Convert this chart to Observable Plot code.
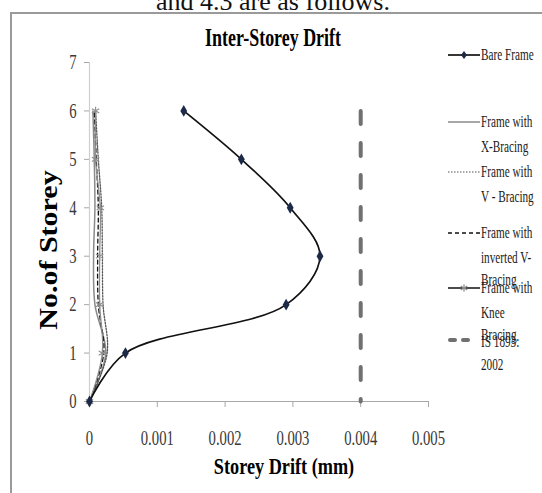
<!DOCTYPE html>
<html>
<head>
<meta charset="utf-8">
<script src="https://cdn.jsdelivr.net/npm/d3@7"></script>
<script src="https://cdn.jsdelivr.net/npm/@observablehq/plot@0.6"></script>
<style>
  html, body { margin: 0; padding: 0; background: #fff; }
  #wrap { position: relative; width: 542px; height: 493px; overflow: hidden; background: #fff; }
  #wrap svg { position: absolute; left: 0; top: 0; }
</style>
</head>
<body>
<div id="wrap"></div>
<script>
// ---- data ----
const storeys = [0, 1, 2, 3, 4, 5, 6];
const bareFrame = [0, 0.00053, 0.0029, 0.0034, 0.00296, 0.00224, 0.00139];
const xBracing = [0, 0.00024, 0.00008, 0.00006, 0.00008, 0.00007, 0.00005];
const vBracing = [0, 0.00026, 0.0002, 0.00019, 0.00018, 0.00013, 0.00009];
const invVBracing = [0, 0.00021, 0.00013, 0.00012, 0.00013, 0.0001, 0.00007];
const kneeBracing = [0, 0.00019, 0.00015, 0.00015, 0.00016, 0.00009, 0.00009];
const isLimitDrift = 0.004;
const isLimitStoreys = [6, 0];
const xTicks = [0, 0.001, 0.002, 0.003, 0.004, 0.005];
const yTicks = [0, 1, 2, 3, 4, 5, 6, 7];

const seriesNames = ["Bare Frame", "Frame with X-Bracing", "Frame with V - Bracing", "Frame with inverted V-Bracing", "Frame with Knee Bracing"];
const rows = (vals) => storeys.map((s, i) => ({storey: s, drift: vals[i]}));
const isRows = isLimitStoreys.map(s => ({storey: s, drift: isLimitDrift}));

const font = "'Liberation Serif', 'Times New Roman', serif";

const plot = Plot.plot({
  width: 542,
  height: 493,
  marginLeft: 89,
  marginRight: 114,
  marginTop: 62,
  marginBottom: 92,
  x: {domain: [0, 0.005]},
  y: {domain: [0, 7]},
  style: {fontFamily: font, background: "transparent", overflow: "visible"},
  marks: [
    Plot.ruleX([0], {stroke: "#cfcfcf", strokeWidth: 1.2}),
    Plot.ruleY([0], {stroke: "#a8a8a8", strokeWidth: 1.2}),
    Plot.axisX({ticks: xTicks, tickSize: 6, tickPadding: 23, fontSize: 21, color: "#3a3a3a",
      tickFormat: d => String(d), label: null}),
    Plot.axisY({ticks: yTicks, tickSize: 5, tickPadding: 8, fontSize: 21, color: "#3a3a3a",
      tickFormat: d => String(d), label: null}),
    Plot.line(isRows, {x: "drift", y: "storey", stroke: "#707070", strokeWidth: 4,
      strokeDasharray: "13,19", strokeLinecap: "round"}),
    Plot.line(rows(xBracing), {x: "drift", y: "storey", stroke: "#8a8a8a", strokeWidth: 1.5, curve: "catmull-rom"}),
    Plot.line(rows(vBracing), {x: "drift", y: "storey", stroke: "#555", strokeWidth: 1.3, strokeDasharray: "1.5,1.5", curve: "catmull-rom"}),
    Plot.line(rows(invVBracing), {x: "drift", y: "storey", stroke: "#111", strokeWidth: 1.3, strokeDasharray: "4,3", curve: "catmull-rom"}),
    Plot.line(rows(kneeBracing), {x: "drift", y: "storey", stroke: "#8f8f8f", strokeWidth: 1.3, curve: "catmull-rom"}),
    Plot.dot(rows(kneeBracing), {x: "drift", y: "storey", symbol: "asterisk", r: 4, stroke: "#909090", strokeWidth: 1.2}),
    Plot.line(rows(bareFrame), {x: "drift", y: "storey", stroke: "#111", strokeWidth: 1.7, curve: "catmull-rom"}),
    Plot.dot(rows(bareFrame), {x: "drift", y: "storey", symbol: "diamond", r: 3.6, fill: "#1c2a48", stroke: "none"})
  ]
});

// tick marks grey, labels narrow
d3.select(plot).selectAll("g[aria-label='x-axis tick'] path, g[aria-label='y-axis tick'] path").attr("stroke", "#a8a8a8");
function squeeze(node, s) {
  const x = parseFloat(node.getAttribute("x")) || 0;
  const t = node.getAttribute("transform") || "";
  node.setAttribute("transform", `${t} translate(${x},0) scale(${s},1) translate(${-x},0)`);
}
d3.select(plot).selectAll("text").each(function() { squeeze(this, 0.7); });

const wrap = document.getElementById("wrap");
wrap.appendChild(plot);

// ---- overlay: page text, border, titles, legend ----
const ov = d3.create("svg").attr("width", 542).attr("height", 493)
  .style("font-family", font).style("pointer-events", "none");

ov.append("text").attr("x", 273).attr("y", 10).attr("text-anchor", "middle")
  .attr("font-size", 26).attr("fill", "#111").text("and 4.3 are as follows.");

ov.append("rect").attr("x", 11).attr("y", 13).attr("width", 700).attr("height", 700)
  .attr("fill", "none").attr("stroke", "#9a9a9a").attr("stroke-width", 2);

ov.append("text").attr("transform", "translate(273,46) scale(0.69,1)").attr("text-anchor", "middle")
  .attr("font-size", 26).attr("font-weight", "bold").attr("fill", "#000").text("Inter-Storey Drift");

ov.append("text").attr("transform", "translate(284,474) scale(0.76,1)").attr("text-anchor", "middle")
  .attr("font-size", 24).attr("font-weight", "bold").attr("fill", "#000").text("Storey Drift (mm)");

ov.append("text").attr("transform", "translate(57,250) rotate(-90) scale(1,0.82)").attr("text-anchor", "middle")
  .attr("font-size", 30).attr("font-weight", "bold").attr("fill", "#000").text("No.of Storey");

// legend samples
const lx1 = 448, lx2 = 480, lmid = 464;
const lg = ov.append("g");
lg.append("line").attr("x1", lx1).attr("x2", lx2).attr("y1", 55).attr("y2", 55).attr("stroke", "#111").attr("stroke-width", 1.7);
lg.append("path").attr("d", "M0,-4L3,0L0,4L-3,0Z").attr("transform", `translate(${lmid},55)`).attr("fill", "#1c2a48");
lg.append("line").attr("x1", lx1).attr("x2", lx2).attr("y1", 122).attr("y2", 122).attr("stroke", "#8a8a8a").attr("stroke-width", 1.5);
lg.append("line").attr("x1", lx1).attr("x2", lx2).attr("y1", 172).attr("y2", 172).attr("stroke", "#555").attr("stroke-width", 1.2).attr("stroke-dasharray", "1.5,1.5");
lg.append("line").attr("x1", lx1).attr("x2", lx2).attr("y1", 233).attr("y2", 233).attr("stroke", "#111").attr("stroke-width", 1.3).attr("stroke-dasharray", "4,3");
lg.append("line").attr("x1", lx1).attr("x2", lx2).attr("y1", 288).attr("y2", 288).attr("stroke", "#111").attr("stroke-width", 1.5);
lg.append("path").attr("d", d3.symbol(d3.symbolAsterisk, 40)()).attr("transform", `translate(${lmid},288)`).attr("fill", "none").attr("stroke", "#909090").attr("stroke-width", 1.2);
lg.append("line").attr("x1", 450).attr("x2", 455).attr("y1", 340).attr("y2", 340).attr("stroke", "#707070").attr("stroke-width", 4).attr("stroke-linecap", "round");
lg.append("line").attr("x1", 463).attr("x2", 468).attr("y1", 340).attr("y2", 340).attr("stroke", "#707070").attr("stroke-width", 4).attr("stroke-linecap", "round");

const legendLines = [
  ["Bare Frame", 55],
  ["Frame with", 122], ["X-Bracing", 147],
  ["Frame with", 172], ["V - Bracing", 197],
  ["Frame with", 233], ["inverted V-", 258], ["Bracing", 280],
  ["Frame with", 288], ["Knee", 313], ["Bracing", 335],
  ["IS 1893:", 342], ["2002", 365]
];
lg.selectAll("text.lt").data(legendLines).join("text").attr("class", "lt")
  .attr("transform", d => `translate(481,${d[1] + 5}) scale(0.66,1)`)
  .attr("font-size", 17).attr("fill", "#1a1a1a").text(d => d[0]);

wrap.appendChild(ov.node());
</script>
</body>
</html>
